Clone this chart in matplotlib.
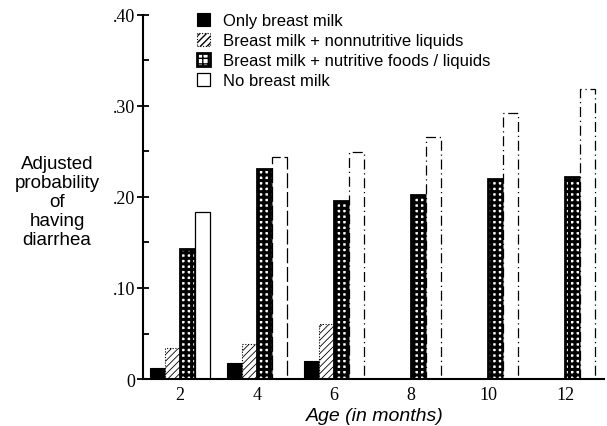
import numpy as np
import matplotlib
matplotlib.use('Agg')
import matplotlib.pyplot as plt

plt.rcParams['font.family'] = ['Liberation Sans', 'DejaVu Sans']

# 資料
ages = [2, 4, 6, 8, 10, 12]
only_breast = [0.012, 0.018, 0.020, 0, 0, 0]
nonnutritive = [0.034, 0.039, 0.060, 0, 0, 0]
nutritive = [0.143, 0.231, 0.195, 0.202, 0.220, 0.222]
no_breast = [0.183, 0.244, 0.249, 0.266, 0.292, 0.319]

series_labels = ['Only breast milk',
                 'Breast milk + nonnutritive liquids',
                 'Breast milk + nutritive foods / liquids',
                 'No breast milk']
yticks = [0, 0.10, 0.20, 0.30, 0.40]
ytick_labels = ['0', '.10', '.20', '.30', '.40']

fig = plt.figure(figsize=(6.07, 4.27), dpi=100)
ax = fig.add_axes([0.236, 0.110, 0.759, 0.853])

x = np.array(ages, dtype=float)
w = 0.39

with plt.rc_context({'hatch.linewidth': 0.6}):
    ax.bar(x - 1.5 * w, only_breast, w, color='black', edgecolor='black',
           linewidth=0.8, label=series_labels[0])
    ax.bar(x - 0.5 * w, nonnutritive, w, facecolor='white', edgecolor='black',
           hatch='/////', linewidth=0.8, linestyle=(0, (1, 1.5)),
           label=series_labels[1])
with plt.rc_context({'hatch.linewidth': 2.2}):
    ax.bar(x + 0.5 * w, nutritive, w, facecolor='white', edgecolor='black',
           hatch='+++', linewidth=2.0, label=series_labels[2])
b4 = ax.bar(x + 1.5 * w, no_breast, w, facecolor='white', edgecolor='black',
            linewidth=0.9, label=series_labels[3])
for i, p in enumerate(b4):
    if i >= 2:
        p.set_linestyle((0, (8, 3, 1, 3)))
    elif i == 1:
        p.set_linestyle((0, (12, 3)))

ax.set_xlim(1.05, 13.0)
ax.set_ylim(0, 0.40)
ax.set_xticks(ages)
ax.set_xticklabels([str(a) for a in ages], family='Liberation Serif', fontsize=13)
ax.set_yticks(yticks)
ax.set_yticklabels(ytick_labels, family='Liberation Serif', fontsize=13)
ax.set_yticks([0.05, 0.15, 0.25, 0.35], minor=True)
ax.tick_params(axis='y', which='major', direction='inout', length=8, width=1.3, pad=2)
ax.tick_params(axis='y', which='minor', direction='in', length=4, width=1.3)
ax.tick_params(axis='x', which='major', length=0, pad=5)

for s in ['top', 'right']:
    ax.spines[s].set_visible(False)
ax.spines['left'].set_linewidth(1.5)
ax.spines['bottom'].set_linewidth(1.5)

fig.text(0.618, 0.025, 'Age (in months)', ha='center', va='center',
         fontsize=14, style='italic')
fig.text(0.094, 0.525, 'Adjusted\nprobability\nof\nhaving\ndiarrhea',
         ha='center', va='center', fontsize=13.5, linespacing=1.15)

leg = fig.legend(loc='upper left', bbox_to_anchor=(0.305, 0.995), frameon=False,
                 fontsize=12, handlelength=0.8, handleheight=0.8,
                 handletextpad=0.8, labelspacing=0.3, borderpad=0.2)

fig.savefig('out.png', dpi=100)
